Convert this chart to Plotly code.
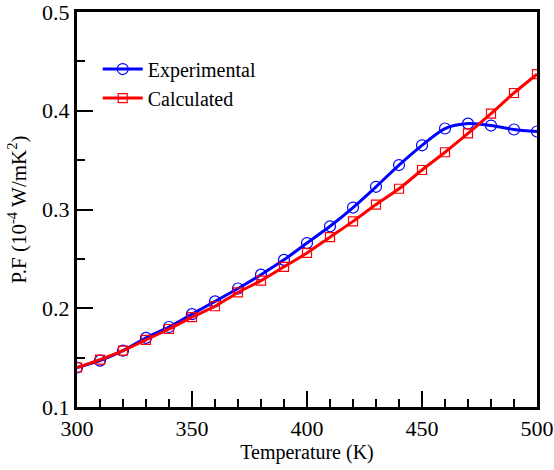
import plotly.graph_objects as go

temperature = [300, 310, 320, 330, 340, 350, 360, 370, 380, 390, 400,
               410, 420, 430, 440, 450, 460, 470, 480, 490, 500]
experimental = [0.140, 0.147, 0.157, 0.170, 0.181, 0.194, 0.207, 0.220, 0.234, 0.249, 0.266,
                0.283, 0.302, 0.323, 0.345, 0.365, 0.382, 0.387, 0.385, 0.381, 0.379]
calculated = [0.140, 0.148, 0.157, 0.168, 0.179, 0.191, 0.202, 0.216, 0.228, 0.242, 0.256,
              0.272, 0.288, 0.305, 0.321, 0.340, 0.358, 0.377, 0.397, 0.418, 0.437]

font_family = "Liberation Serif"

fig = go.Figure()
fig.add_trace(go.Scatter(
    x=temperature, y=experimental, name="Experimental",
    mode="lines+markers",
    line=dict(color="#0000ff", width=3, shape="spline", smoothing=0.8),
    marker=dict(symbol="circle-open", size=11, color="#0000ff", line=dict(width=1.2)),
))
fig.add_trace(go.Scatter(
    x=temperature, y=calculated, name="Calculated",
    mode="lines+markers",
    line=dict(color="#ff0000", width=3, shape="spline", smoothing=0.8),
    marker=dict(symbol="square-open", size=9, color="#ff0000", line=dict(width=1.2)),
))

fig.update_layout(
    width=554, height=470,
    margin=dict(l=77, r=17, t=12, b=63),
    paper_bgcolor="white", plot_bgcolor="white",
    font=dict(family=font_family, color="black"),
    showlegend=True,
    legend=dict(x=0.045, y=0.905, xanchor="left", yanchor="top",
                font=dict(size=20, family=font_family), bgcolor="rgba(0,0,0,0)",
                itemwidth=40, tracegroupgap=0),
)
fig.update_xaxes(
    range=[300, 500], dtick=50, tick0=300, automargin=False,
    ticklabeloverflow="allow",
    showline=True, linewidth=3, linecolor="black", mirror=True,
    ticks="inside", ticklen=16, tickwidth=2, tickcolor="black",
    minor=dict(ticks="inside", ticklen=8, tickwidth=2, dtick=10, tickcolor="black"),
    showgrid=False, zeroline=False,
    tickfont=dict(size=22, family=font_family),
    title=dict(text="Temperature (K)", font=dict(size=20, family=font_family), standoff=4),
)
fig.update_yaxes(
    range=[0.1, 0.5], dtick=0.1, tick0=0.1, automargin=False,
    ticklabeloverflow="allow",
    showline=True, linewidth=3, linecolor="black", mirror=True,
    ticks="inside", ticklen=16, tickwidth=2, tickcolor="black",
    minor=dict(ticks="inside", ticklen=8, tickwidth=2, dtick=0.05, tickcolor="black"),
    showgrid=False, zeroline=False,
    tickfont=dict(size=22, family=font_family),
    title=dict(text="P.F (10<sup>-4</sup> W/mK<sup>2</sup>)", font=dict(size=21, family=font_family), standoff=10),
)

fig.write_html("out.html", config={"displayModeBar": False},
               post_script="document.body.style.margin='0';")
